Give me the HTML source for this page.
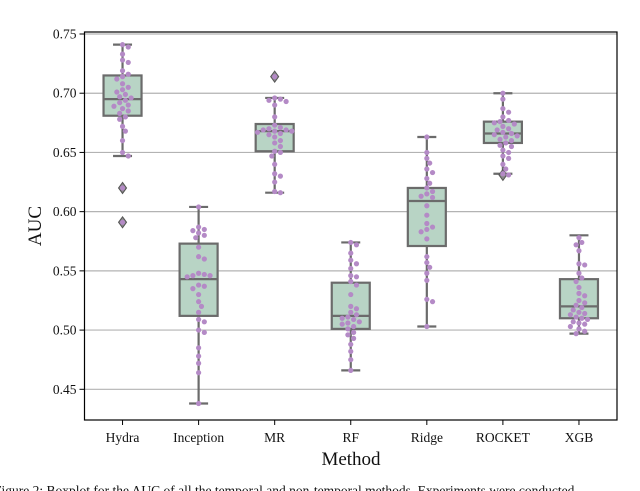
<!DOCTYPE html>
<html><head><meta charset="utf-8"><style>
html,body{margin:0;padding:0;background:#fff;width:640px;height:491px;overflow:hidden}
svg text{font-family:"Liberation Serif",serif;fill:#111}
</style></head><body>
<svg id="chart" width="640" height="491" viewBox="0 0 640 491" xmlns="http://www.w3.org/2000/svg">
<g id="grid"></g><g id="marks"></g><g id="axes"></g>
<text x="0" y="0" font-size="19" text-anchor="middle" transform="translate(41 226) rotate(-90)">AUC</text>
<text x="351" y="465" font-size="19" text-anchor="middle">Method</text>
<text x="-6" y="495" font-size="13.5">Figure 2: Boxplot for the AUC of all the temporal and non-temporal methods. Experiments were conducted</text>
</svg>
<script>
const categories=["Hydra","Inception","MR","RF","Ridge","ROCKET","XGB"];
const yTicks=[0.45,0.50,0.55,0.60,0.65,0.70,0.75];
const q1=[0.681,0.512,0.651,0.501,0.571,0.658,0.510];
const medians=[0.695,0.543,0.668,0.512,0.609,0.666,0.520];
const q3=[0.715,0.573,0.674,0.540,0.620,0.676,0.543];
const whiskLo=[0.647,0.438,0.616,0.466,0.503,0.632,0.497];
const whiskHi=[0.741,0.604,0.696,0.574,0.663,0.700,0.580];
const outliers=[[0.620,0.591],[],[0.714],[],[],[0.631],[]];
const pts=[
[0.741,0.739,0.733,0.728,0.726,0.719,0.716,0.714,0.712,0.708,0.705,0.703,0.701,0.699,0.697,0.696,0.694,0.692,0.690,0.689,0.687,0.685,0.683,0.680,0.678,0.672,0.668,0.660,0.650,0.647,0.620,0.591],
[0.604,0.587,0.585,0.584,0.582,0.580,0.578,0.570,0.562,0.560,0.548,0.547,0.546,0.546,0.545,0.538,0.537,0.535,0.530,0.524,0.520,0.515,0.509,0.507,0.500,0.498,0.485,0.478,0.472,0.464,0.438],
[0.714,0.696,0.695,0.694,0.693,0.690,0.680,0.673,0.671,0.670,0.669,0.669,0.668,0.668,0.667,0.666,0.665,0.663,0.660,0.658,0.655,0.651,0.650,0.647,0.640,0.632,0.630,0.625,0.617,0.616],
[0.574,0.572,0.565,0.559,0.556,0.552,0.546,0.545,0.541,0.538,0.530,0.520,0.518,0.515,0.513,0.511,0.510,0.509,0.507,0.506,0.505,0.503,0.501,0.498,0.496,0.493,0.488,0.482,0.475,0.466],
[0.663,0.650,0.645,0.641,0.636,0.633,0.628,0.624,0.620,0.617,0.615,0.613,0.612,0.605,0.597,0.590,0.587,0.585,0.583,0.577,0.562,0.557,0.553,0.548,0.542,0.526,0.524,0.503],
[0.700,0.695,0.687,0.684,0.680,0.677,0.676,0.675,0.674,0.672,0.670,0.669,0.667,0.666,0.665,0.664,0.663,0.661,0.660,0.658,0.656,0.655,0.652,0.650,0.647,0.645,0.640,0.636,0.632,0.631],
[0.578,0.574,0.572,0.567,0.556,0.555,0.548,0.544,0.541,0.536,0.531,0.529,0.525,0.523,0.521,0.519,0.517,0.515,0.514,0.513,0.511,0.510,0.509,0.507,0.506,0.505,0.503,0.501,0.499,0.497]
];
const NS="http://www.w3.org/2000/svg";
const L=84.5,R=617,T=32,B=420;
const Y0=0.45,Y1=0.75,yA=389.3,yB=34;
function y(v){return yA+(v-Y0)*(yB-yA)/(Y1-Y0);}
function x(i){return L+(i+0.5)*(R-L)/categories.length;}
function mk(tag,attrs,parent){const e=document.createElementNS(NS,tag);for(const k in attrs)e.setAttribute(k,attrs[k]);parent.appendChild(e);return e;}
const grid=document.getElementById('grid'),marks=document.getElementById('marks'),axes=document.getElementById('axes');
yTicks.forEach(t=>{
  const g=mk('line',{x1:L,x2:R,y1:y(t),y2:y(t),stroke:'#b3b3b3','stroke-width':1.2},grid);
  
  
  const tk=mk('line',{x1:L-5,x2:L,y1:y(t),y2:y(t),stroke:'#000','stroke-width':1},axes);
  
  
  const tx=mk('text',{x:L-8,y:y(t)+4.5,'font-size':13.5,'text-anchor':'end'},axes);
  tx.textContent=t.toFixed(2);
  
  
});
const bw=38,ec='#6b6b6b';
categories.forEach((c,i)=>{
  const cx=x(i);
  const w1=mk('line',{x1:cx,x2:cx,y1:y(whiskHi[i]),y2:y(q3[i]),stroke:ec,'stroke-width':2.2},marks);
  
  
  const w2=mk('line',{x1:cx,x2:cx,y1:y(q1[i]),y2:y(whiskLo[i]),stroke:ec,'stroke-width':2.2},marks);
  
  
  [whiskHi[i],whiskLo[i]].forEach(v=>{
    const cap=mk('line',{x1:cx-bw/4,x2:cx+bw/4,y1:y(v),y2:y(v),stroke:ec,'stroke-width':2.2},marks);
    
    
  });
  const box=mk('rect',{x:cx-bw/2,y:y(q3[i]),width:bw,height:y(q1[i])-y(q3[i]),fill:'#b8d4c5',stroke:ec,'stroke-width':2.2},marks);
  
  
  const md=mk('line',{x1:cx-bw/2,x2:cx+bw/2,y1:y(medians[i]),y2:y(medians[i]),stroke:ec,'stroke-width':2.2},marks);
  
  
  outliers[i].forEach(v=>{
    const oy=y(v);
    const d=mk('polygon',{points:`${cx},${oy-5.5} ${cx+4},${oy} ${cx},${oy+5.5} ${cx-4},${oy}`,fill:'#8a8a8a',stroke:'#555','stroke-width':1},marks);
    
    
  });
  const r=2.6,placed=[];
  const vals=pts[i].slice().sort((a,b)=>b-a);
  vals.forEach(v=>{
    const py=y(v);
    let off=0;
    for(let k=0;k<40;k++){
      const cand=k===0?0:(k%2?1:-1)*Math.ceil(k/2)*r*1.1;
      if(placed.every(p=>Math.hypot(p[0]-cand,p[1]-py)>=2*r)){off=cand;break;}
    }
    placed.push([off,py]);
    const pt=mk('circle',{cx:cx+off,cy:py,r:r,fill:'#b48ac6'},marks);
    
    
  });
  const tk=mk('line',{x1:cx,x2:cx,y1:B,y2:B+5,stroke:'#000','stroke-width':1},axes);
  
  
  const tx=mk('text',{x:cx,y:B+22,'font-size':13.5,'text-anchor':'middle'},axes);
  tx.textContent=c;
  
  
});
const frame=mk('rect',{x:L,y:T,width:R-L,height:B-T,fill:'none',stroke:'#000','stroke-width':1.2},axes);


</script>
</body></html>
